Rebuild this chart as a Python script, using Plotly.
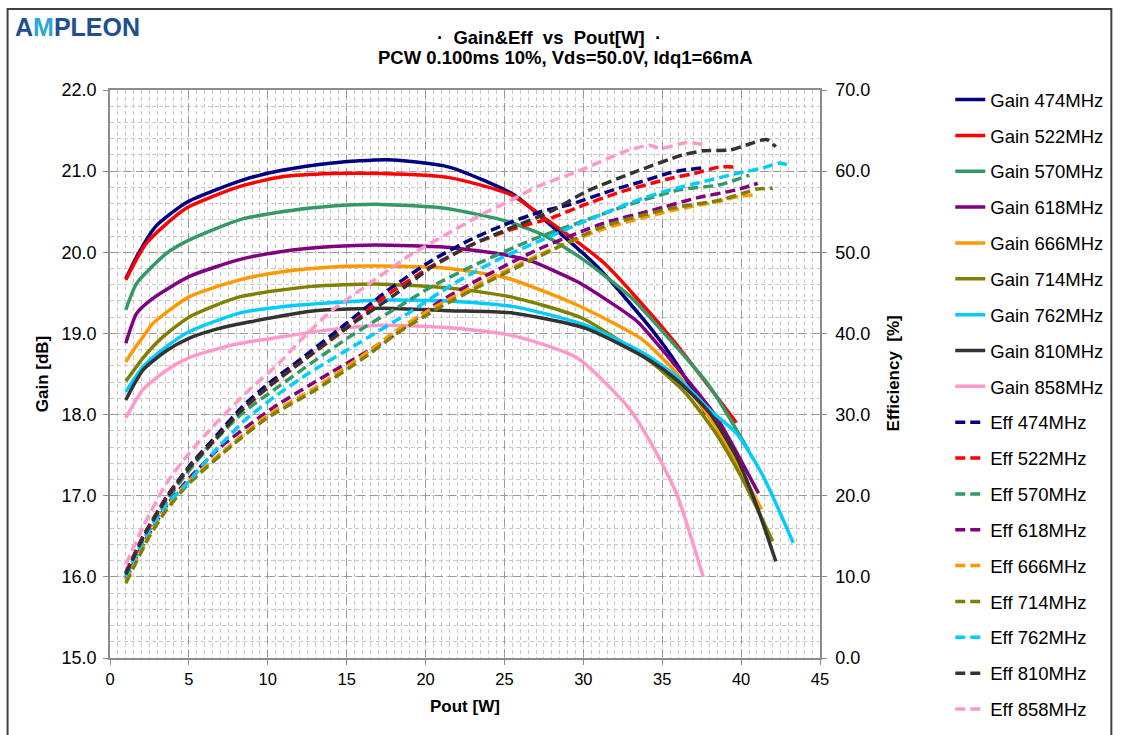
import plotly.graph_objects as go

freqs = ["474", "522", "570", "618", "666", "714", "762", "810", "858"]
colors = ["#000080", "#FF0000", "#339966", "#800080", "#FF9900", "#808000", "#00CCFF", "#333333", "#FF99CC"]

# ---- Gain [dB] vs Pout [W] ----
gain_p_474 = [1.0, 1.7, 2.9, 4.9, 8.4, 10.9, 14.1, 17.6, 21.5, 25.6, 27.3, 30.9, 34.2, 36.0, 37.8]
gain_g_474 = [19.67, 19.95, 20.32, 20.62, 20.89, 21.01, 21.10, 21.14, 21.05, 20.71, 20.44, 19.82, 19.08, 18.60, 18.0]
gain_p_522 = [1.0, 2.3, 4.8, 8.2, 10.9, 14.1, 17.2, 21.5, 25.4, 27.7, 31.3, 35.5, 39.7]
gain_g_522 = [19.66, 20.11, 20.54, 20.81, 20.93, 20.97, 20.97, 20.92, 20.71, 20.40, 19.87, 18.96, 17.90]
gain_p_570 = [1.0, 1.7, 3.6, 5.0, 8.2, 10.9, 14.1, 17.2, 21.3, 25.2, 27.7, 30.0, 33.0, 35.5, 38.0, 40.5]
gain_g_570 = [19.29, 19.62, 19.99, 20.15, 20.40, 20.50, 20.57, 20.59, 20.54, 20.38, 20.19, 19.91, 19.45, 18.92, 18.35, 17.55]
gain_p_618 = [1.0, 1.7, 2.7, 5.0, 8.2, 10.9, 14.1, 16.8, 21.5, 25.0, 26.7, 29.6, 31.5, 33.4, 35.9, 38.4, 41.1]
gain_g_618 = [18.88, 19.25, 19.43, 19.70, 19.91, 20.01, 20.07, 20.09, 20.06, 19.97, 19.89, 19.64, 19.41, 19.15, 18.59, 17.98, 17.03]
gain_p_666 = [1.0, 1.5, 2.1, 2.7, 5.0, 8.2, 10.9, 14.1, 16.8, 21.5, 25.2, 29.6, 33.7, 35.9, 38.4, 41.3]
gain_g_666 = [18.65, 18.80, 18.96, 19.12, 19.45, 19.66, 19.76, 19.82, 19.83, 19.80, 19.68, 19.35, 18.93, 18.51, 17.85, 16.83]
gain_p_714 = [1.0, 2.1, 3.2, 5.0, 8.2, 12.8, 16.8, 21.5, 25.4, 29.9, 34.4, 36.5, 38.4, 40.1, 42.0]
gain_g_714 = [18.41, 18.70, 18.93, 19.20, 19.45, 19.58, 19.61, 19.56, 19.45, 19.19, 18.63, 18.26, 17.77, 17.20, 16.44]
gain_p_762 = [1.0, 2.1, 3.6, 5.0, 8.2, 10.9, 16.8, 21.5, 25.6, 30.0, 33.8, 35.9, 38.0, 39.7, 41.4, 43.3]
gain_g_762 = [18.28, 18.59, 18.84, 19.02, 19.25, 19.33, 19.41, 19.40, 19.33, 19.11, 18.76, 18.47, 18.06, 17.77, 17.24, 16.42]
gain_p_810 = [1.0, 2.1, 3.6, 5.0, 6.7, 8.8, 13.0, 17.2, 21.5, 25.6, 30.2, 34.2, 35.9, 38.0, 39.7, 41.0, 42.2]
gain_g_810 = [18.18, 18.55, 18.79, 18.94, 19.05, 19.14, 19.28, 19.31, 19.28, 19.25, 19.06, 18.67, 18.43, 18.02, 17.48, 16.87, 16.19]
gain_p_858 = [1.0, 2.1, 3.6, 5.0, 7.8, 10.9, 14.1, 17.2, 21.5, 25.6, 29.6, 32.8, 34.4, 35.9, 37.6]
gain_g_858 = [17.96, 18.31, 18.55, 18.70, 18.86, 18.96, 19.05, 19.10, 19.07, 18.97, 18.70, 18.10, 17.61, 17.03, 16.00]

# ---- Efficiency [%] vs Pout [W] ----
eff_p_474 = [1.0, 2.1, 3.6, 5.0, 6.7, 8.4, 10.1, 12.2, 14.7, 17.6, 20.4, 22.9, 25.0, 27.3, 29.2, 31.9, 33.5, 35.5, 36.3, 37.5]
eff_e_474 = [10.5, 15.0, 19.9, 23.6, 27.3, 31.0, 33.9, 37.0, 40.8, 45.3, 49.0, 51.6, 53.4, 55.0, 55.9, 57.7, 58.6, 59.8, 60.1, 60.4]
eff_p_522 = [1.0, 2.1, 3.6, 5.0, 6.7, 8.4, 10.1, 12.2, 14.7, 17.4, 20.4, 22.9, 25.4, 27.9, 30.0, 32.3, 35.5, 37.0, 38.6, 39.7]
eff_e_522 = [10.4, 14.9, 19.8, 23.4, 27.0, 30.6, 33.5, 36.6, 40.2, 44.5, 48.3, 50.9, 52.8, 54.2, 55.8, 57.4, 59.1, 59.7, 60.5, 60.5]
eff_p_570 = [1.0, 2.1, 3.6, 4.4, 6.3, 8.4, 10.5, 12.8, 15.5, 18.3, 20.4, 23.3, 26.7, 30.2, 33.4, 36.1, 38.6, 40.5]
eff_e_570 = [10.1, 14.5, 19.3, 21.6, 26.1, 30.2, 33.2, 36.4, 40.0, 43.3, 45.8, 48.6, 51.5, 54.0, 56.2, 57.7, 58.3, 59.5]
eff_p_618 = [1.0, 2.1, 3.6, 5.0, 7.0, 10.3, 14.1, 17.85, 20.8, 23.7, 27.3, 31.3, 34.4, 37.2, 39.7, 41.05]
eff_e_618 = [9.7, 14.0, 18.8, 22.1, 26.0, 30.8, 35.3, 39.6, 43.8, 47.0, 50.5, 53.6, 55.2, 56.7, 57.7, 58.5]
eff_p_666 = [1.0, 2.5, 3.6, 5.0, 7.8, 9.9, 13.0, 16.4, 18.1, 20.8, 23.7, 27.1, 31.3, 35.5, 38.6, 39.9, 41.0]
eff_e_666 = [9.5, 15.2, 18.6, 21.8, 26.5, 29.8, 33.3, 37.8, 40.3, 43.5, 46.4, 49.6, 52.9, 55.1, 56.3, 56.9, 57.1]
eff_p_714 = [1.0, 2.5, 3.6, 5.0, 7.8, 9.9, 13.0, 16.4, 18.1, 20.8, 23.7, 27.1, 31.3, 35.5, 38.6, 40.5, 41.0, 42.0]
eff_e_714 = [9.2, 15.0, 18.3, 21.5, 26.3, 29.5, 33.0, 37.4, 39.9, 43.1, 46.1, 49.4, 53.2, 55.4, 56.4, 57.5, 57.8, 57.9]
eff_p_762 = [1.0, 2.1, 3.6, 4.6, 6.5, 8.6, 10.5, 12.6, 15.75, 18.9, 21.85, 24.6, 27.1, 31.3, 33.4, 35.5, 37.6, 39.7, 41.4, 42.4, 42.9]
eff_e_762 = [10.0, 14.4, 19.0, 20.9, 25.2, 29.4, 32.3, 35.1, 38.8, 42.5, 46.2, 49.1, 51.3, 54.8, 56.4, 57.7, 58.7, 59.7, 60.4, 61.0, 60.8]
eff_p_810 = [1.0, 2.1, 3.6, 5.0, 6.7, 8.4, 10.1, 12.2, 14.7, 17.85, 20.4, 22.9, 25.4, 27.9, 30.2, 33.4, 36.3, 37.6, 39.3, 40.3, 41.6, 42.2]
eff_e_810 = [10.3, 14.8, 19.7, 23.4, 27.0, 30.7, 33.5, 36.6, 40.3, 44.5, 48.2, 50.9, 53.0, 55.0, 57.5, 60.0, 62.0, 62.5, 62.6, 63.2, 63.9, 63.0]
eff_p_858 = [1.0, 2.1, 3.6, 5.0, 6.5, 8.8, 10.7, 12.0, 14.1, 16.2, 18.9, 21.4, 23.7, 25.4, 27.1, 29.8, 32.6, 34.2, 34.9, 36.5, 37.6]
eff_e_858 = [11.5, 16.2, 21.6, 25.2, 28.5, 33.0, 36.3, 39.0, 42.9, 45.8, 49.5, 52.3, 54.8, 56.4, 58.1, 60.1, 62.4, 63.2, 62.8, 63.5, 63.3]

gain_p = [gain_p_474, gain_p_522, gain_p_570, gain_p_618, gain_p_666, gain_p_714, gain_p_762, gain_p_810, gain_p_858]
gain_g = [gain_g_474, gain_g_522, gain_g_570, gain_g_618, gain_g_666, gain_g_714, gain_g_762, gain_g_810, gain_g_858]
eff_p = [eff_p_474, eff_p_522, eff_p_570, eff_p_618, eff_p_666, eff_p_714, eff_p_762, eff_p_810, eff_p_858]
eff_e = [eff_e_474, eff_e_522, eff_e_570, eff_e_618, eff_e_666, eff_e_714, eff_e_762, eff_e_810, eff_e_858]

x_ticks = [0, 5, 10, 15, 20, 25, 30, 35, 40, 45]
gain_ticks = [15.0, 16.0, 17.0, 18.0, 19.0, 20.0, 21.0, 22.0]
eff_ticks = [0.0, 10.0, 20.0, 30.0, 40.0, 50.0, 60.0, 70.0]

FONT = "Arial, Liberation Sans, sans-serif"

fig = go.Figure()
for i, f in enumerate(freqs):
    fig.add_trace(go.Scatter(
        x=gain_p[i], y=gain_g[i], mode="lines", name=f"Gain {f}MHz",
        legendgroup=f"g{f}", line=dict(color=colors[i], width=3.5, shape="spline", smoothing=0.6),
        yaxis="y"))
for i, f in enumerate(freqs):
    fig.add_trace(go.Scatter(
        x=eff_p[i], y=eff_e[i], mode="lines", name=f"Eff {f}MHz",
        legendgroup=f"e{f}", line=dict(color=colors[i], width=3.5, dash="10px,5px", shape="spline", smoothing=0.6),
        yaxis="y2"))

PL, PR, PT, PB = 110, 824, 90, 658.3
W, H = 1121, 735

def px(x):
    return (x - PL) / (PR - PL)

def py(y):
    return (PB - y) / (PB - PT)

fig.update_layout(
    width=W, height=H,
    margin=dict(l=PL, r=W - PR, t=PT, b=H - PB, pad=0),
    paper_bgcolor="white", plot_bgcolor="white",
    font=dict(family=FONT, color="black", size=17),
    showlegend=True,
    legend=dict(x=px(955), y=py(81), xanchor="left", yanchor="top",
                font=dict(size=18.5, family=FONT, color="black"),
                tracegroupgap=8.8, traceorder="grouped", bgcolor="rgba(0,0,0,0)",
                itemwidth=30),
    xaxis=dict(range=[0, 45], tickvals=x_ticks, ticks="outside", ticklen=5, tickcolor="#8c8c8c",
               showline=True, linecolor="#8c8c8c", linewidth=1.5, mirror=True,
               showgrid=True, gridcolor="#9a9a9a", gridwidth=1.3, griddash="8px,5px",
               minor=dict(dtick=0.5, showgrid=True, gridcolor="#c8c8c8", gridwidth=1, griddash="4px,3px"),
               tickfont=dict(size=16.5, color="black"), zeroline=False),
    yaxis=dict(range=[15, 22], tickvals=gain_ticks, tickformat=".1f", ticks="outside", ticklen=5,
               tickcolor="#8c8c8c", showline=True, linecolor="#8c8c8c", linewidth=1.5,
               showgrid=True, gridcolor="#9a9a9a", gridwidth=1.3, griddash="8px,5px",
               minor=dict(dtick=0.2, showgrid=True, gridcolor="#c8c8c8", gridwidth=1, griddash="4px,3px"),
               tickfont=dict(size=18, color="black"), zeroline=False),
    yaxis2=dict(range=[0, 70], tickvals=eff_ticks, tickformat=".1f", overlaying="y", side="right",
                ticks="outside", ticklen=5, tickcolor="#8c8c8c", showline=True, linecolor="#8c8c8c",
                linewidth=1.5, showgrid=False, zeroline=False, tickfont=dict(size=18, color="black")),
)
try:
    fig.update_layout(legend_maxheight=1.0)
except Exception:
    pass
try:
    fig.update_layout(yaxis_ticklabelstandoff=3, yaxis2_ticklabelstandoff=5)
except Exception:
    pass

annotations = [
    dict(text="<b>A<span style='color:#2aa6de'>M</span>PLEON</b>", x=px(12), y=py(11), xref="paper", yref="paper",
         xanchor="left", yanchor="top", showarrow=False,
         font=dict(size=25, family=FONT, color="#1f4f8f")),
    dict(text="<b>·&nbsp; Gain&Eff&nbsp; vs&nbsp; Pout[W]&nbsp; ·</b>", x=px(551), y=py(37), xref="paper", yref="paper",
         xanchor="center", yanchor="middle", showarrow=False, font=dict(size=18.5, family=FONT)),
    dict(text="<b>PCW 0.100ms 10%, Vds=50.0V, Idq1=66mA</b>", x=px(568), y=py(57), xref="paper", yref="paper",
         xanchor="center", yanchor="middle", showarrow=False, font=dict(size=18.5, family=FONT)),
    dict(text="<b>Gain [dB]</b>", x=px(42), y=py(374), xref="paper", yref="paper", textangle=-90,
         xanchor="center", yanchor="middle", showarrow=False, font=dict(size=17, family=FONT)),
    dict(text="<b>Efficiency  [%]</b>", x=px(898), y=py(374), xref="paper", yref="paper", textangle=-90,
         xanchor="center", yanchor="middle", showarrow=False, font=dict(size=17, family=FONT)),
    dict(text="<b>Pout [W]</b>", x=px(467), y=py(707), xref="paper", yref="paper",
         xanchor="center", yanchor="middle", showarrow=False, font=dict(size=17, family=FONT)),
]
fig.update_layout(annotations=annotations)

fig.add_shape(type="rect", xref="paper", yref="paper", x0=px(7), x1=px(1117), y0=py(745), y1=py(9),
              line=dict(color="#404040", width=2), fillcolor="rgba(0,0,0,0)", layer="above")

fig.write_html("out.html")
